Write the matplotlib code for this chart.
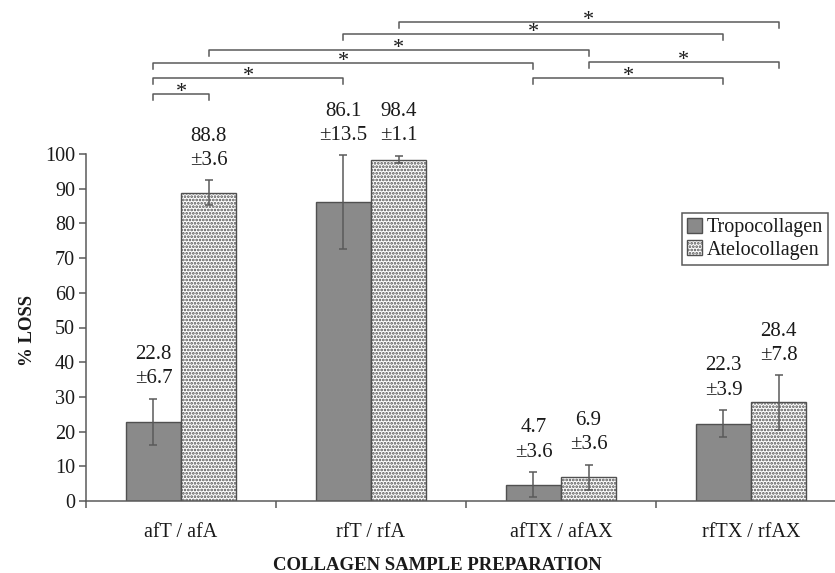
"""
% loss of collagen per sample preparation, tropo vs atelo, with significance brackets
"""

import numpy as np
import matplotlib
matplotlib.use('Agg')
import matplotlib.pyplot as plt
from matplotlib.patches import Patch

# ---------------------------------------------------------------------------- #
# Data
# ---------------------------------------------------------------------------- #
categories = ['afT / afA', 'rfT / rfA', 'afTX / afAX', 'rfTX / rfAX']
tropo_mean = [22.8, 86.1, 4.7, 22.3]
tropo_sd = [6.7, 13.5, 3.6, 3.9]
atelo_mean = [88.8, 98.4, 6.9, 28.4]
atelo_sd = [3.6, 1.1, 3.6, 7.8]
series_labels = ['Tropocollagen', 'Atelocollagen']

# significant pairs, bars numbered left to right (0 = afT, 1 = afA, ...)
comparisons = [(0, 1), (0, 2), (0, 4), (1, 5), (2, 6), (3, 7), (4, 6), (5, 7)]

# ---------------------------------------------------------------------------- #
# Options
# ---------------------------------------------------------------------------- #
bracket_levels = [117.3, 121.9, 126.2, 130.0, 134.6, 138.0, 121.9, 126.5]
bar_width = 0.29
dark_grey = '#8a8a8a'
edge_grey = '#505050'
line_grey = '#5a5a5a'
text_col = '#1a1a1a'

plt.rcParams['font.family'] = ['Liberation Serif', 'DejaVu Serif']
plt.rcParams['hatch.linewidth'] = 1.3
plt.rcParams['hatch.color'] = '#7a7a7a'

fig = plt.figure(figsize=(8.35, 5.73), dpi=100)
ax = fig.add_axes([86/835, 72/573, 760/835, 501/573])

centres = np.arange(len(categories)) + 0.5
x_tropo = centres - bar_width/2
x_atelo = centres + bar_width/2

err_kw = dict(ecolor=line_grey, elinewidth=1.1, capsize=3, capthick=1.1)
ax.bar(x_tropo, tropo_mean, bar_width, yerr=tropo_sd, color=dark_grey,
       edgecolor=edge_grey, linewidth=1.0, error_kw=err_kw, zorder=2)
ax.bar(x_atelo, atelo_mean, bar_width, yerr=atelo_sd, color='white',
       edgecolor=edge_grey, linewidth=1.0, hatch='.....', error_kw=err_kw,
       zorder=2)

# mean +- sd labels above each bar
for xs, means, sds in [(x_tropo, tropo_mean, tropo_sd),
                       (x_atelo, atelo_mean, atelo_sd)]:
    for x, m, s in zip(xs, means, sds):
        ax.text(x, m + s + 3.0, f'{m:.1f}\n\u00b1{s:.1f}', ha='center',
                va='bottom', fontsize=15, linespacing=1.38, color=text_col)

# ---------------------------------------------------------------------------- #
# Significance brackets
# ---------------------------------------------------------------------------- #
bar_x = np.ravel(np.column_stack([x_tropo, x_atelo]))
drop = 1.8
for (i, j), level in zip(comparisons, bracket_levels):
    x0, x1 = bar_x[i], bar_x[j]
    ax.plot([x0, x0, x1, x1], [level - drop, level, level, level - drop],
            color=line_grey, lw=1.1, clip_on=False, zorder=3)
    ax.text((x0 + x1)/2, level - 0.9, '*', ha='center', va='baseline',
            fontsize=16, color=text_col)

# ---------------------------------------------------------------------------- #
# Axes
# ---------------------------------------------------------------------------- #
ax.set_xlim(0, len(categories))
ax.set_ylim(0, 501/3.47)
for side in ['top', 'right']:
    ax.spines[side].set_visible(False)
for side in ['left', 'bottom']:
    ax.spines[side].set_color(line_grey)
    ax.spines[side].set_linewidth(1.1)
ax.spines['left'].set_bounds(0, 100)

ax.set_yticks(np.arange(0, 101, 10))
ax.tick_params(axis='y', direction='out', length=5, width=1.1,
               color=line_grey, labelsize=14.5, labelcolor=text_col, pad=3)

ax.set_xticks(np.arange(len(categories) + 1))
ax.set_xticklabels([])
ax.set_xticks(centres, minor=True)
ax.set_xticklabels(categories, minor=True)
ax.tick_params(axis='x', which='major', direction='out', length=5,
               width=1.1, color=line_grey)
ax.tick_params(axis='x', which='minor', length=0, labelsize=14.5,
               labelcolor=text_col, pad=16)

ax.set_xlabel('COLLAGEN SAMPLE PREPARATION', fontsize=13.5,
              fontweight='bold', color=text_col)
ax.xaxis.set_label_coords(0.462, -0.112)
ax.set_ylabel('% LOSS', fontsize=13.5, fontweight='bold', color=text_col)
ax.yaxis.set_label_coords(-0.066, 0.341)

handles = [Patch(facecolor=dark_grey, edgecolor=edge_grey),
           Patch(facecolor='white', edgecolor=edge_grey, hatch='.....')]
leg = ax.legend(handles, series_labels, loc='upper right',
                bbox_to_anchor=(0.976, 0.575), fontsize=14.5,
                handlelength=0.75, handleheight=0.75, handletextpad=0.2,
                labelspacing=0.15, borderpad=0.25, borderaxespad=0,
                fancybox=False, framealpha=1)
leg.get_frame().set_edgecolor(line_grey)
leg.get_frame().set_linewidth(1.1)
for t in leg.get_texts():
    t.set_color(text_col)

fig.savefig('out.png', dpi=100)
plt.close()
